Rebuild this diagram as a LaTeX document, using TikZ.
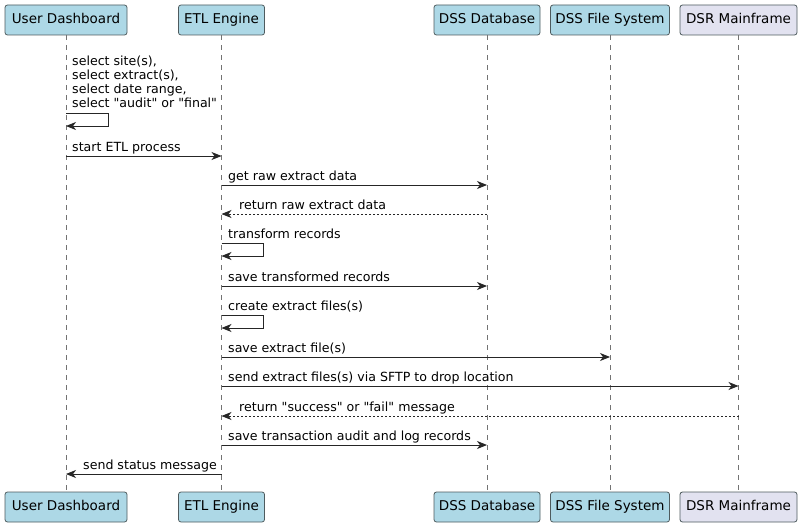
\documentclass[tikz,border=0pt]{standalone}
\usepackage{fontspec}
\setmainfont{DejaVu Sans}[Ligatures=TeXOff]
\usetikzlibrary{positioning,arrows.meta}
\definecolor{partblue}{HTML}{ADD8E6}
\definecolor{partlav}{HTML}{E2E2F0}
\definecolor{partline}{HTML}{4E5B5E}

\begin{document}
\begin{tikzpicture}[x=1pt,y=-1pt,
    part/.style={draw=partline,fill=partblue,rounded corners=2.5pt,
                 minimum height=30pt,inner xsep=0pt,line width=0.8pt,
                 text height=10pt,text depth=3pt,
                 font=\fontsize{13.5}{15}\selectfont},
    lifeline/.style={draw=black!55,line width=0.6pt,dash pattern=on 5pt off 5pt},
    msg/.style={draw=black!85,line width=0.9pt,
                -{Stealth[length=10pt,width=8pt,inset=3pt]}},
    reply/.style={msg,dash pattern=on 2pt off 2pt},
    lbl/.style={inner sep=0pt,anchor=base west,font=\fontsize{12.6}{14}\selectfont}
    ]
  \useasboundingbox (0,0) rectangle (803,527);
  % participants, top row
  \node[part,minimum width=122pt] (dashT) at (66,20)    {User Dashboard};
  \node[part,minimum width=86pt]  (etlT)  at (221.5,20) {ETL Engine};
  \node[part,minimum width=106pt] (dbT)   at (487,20)   {DSS Database};
  \node[part,minimum width=119pt] (fsT)   at (610,20)   {DSS File System};
  \node[part,minimum width=117pt,fill=partlav] (dsrT) at (738.5,20) {DSR Mainframe};
  % participants, bottom row
  \node[part,minimum width=122pt] (dashB) at (66,507)    {User Dashboard};
  \node[part,minimum width=86pt]  (etlB)  at (221.5,507) {ETL Engine};
  \node[part,minimum width=106pt] (dbB)   at (487,507)   {DSS Database};
  \node[part,minimum width=119pt] (fsB)   at (610,507)   {DSS File System};
  \node[part,minimum width=117pt,fill=partlav] (dsrB) at (738.5,507) {DSR Mainframe};
  % lifelines
  \foreach \p in {dash,etl,db,fs,dsr}
    \draw[lifeline] (\p T.south) -- (\p B.north);

  % messages
  \node[lbl,anchor=north west,align=left] (selTxt) at (72,56)
    {select site(s),\\select extract(s),\\select date range,\\select "audit" or "final"};
  \draw[msg] (dashT |- 0,113) -- ++(42,0) -- ++(0,13) -- (dashT |- 0,126);

  \node[lbl] (startTxt) at (72,151) {start ETL process};
  \draw[msg] (dashT |- 0,156) -- (etlT |- 0,156);

  \node[lbl] (getTxt) at (228,180) {get raw extract data};
  \draw[msg] (etlT |- 0,185) -- (dbT |- 0,185);

  \node[lbl] (retTxt) at (239,209) {return raw extract data};
  \draw[reply] (dbT |- 0,214) -- (etlT |- 0,214);

  \node[lbl] (trTxt) at (228,238) {transform records};
  \draw[msg] (etlT |- 0,243) -- ++(42,0) -- ++(0,13) -- (etlT |- 0,256);

  \node[lbl] (saveTxt) at (228,281) {save transformed records};
  \draw[msg] (etlT |- 0,286) -- (dbT |- 0,286);

  \node[lbl] (crTxt) at (228,310) {create extract files(s)};
  \draw[msg] (etlT |- 0,315) -- ++(42,0) -- ++(0,13) -- (etlT |- 0,328);

  \node[lbl] (sfTxt) at (228,352) {save extract file(s)};
  \draw[msg] (etlT |- 0,357) -- (fsT |- 0,357);

  \node[lbl] (sftpTxt) at (228,381) {send extract files(s) via SFTP to drop location};
  \draw[msg] (etlT |- 0,386) -- (dsrT |- 0,386);

  \node[lbl] (okTxt) at (239,411) {return "success" or "fail" message};
  \draw[reply] (dsrT |- 0,416) -- (etlT |- 0,416);

  \node[lbl] (audTxt) at (228,440) {save transaction audit and log records};
  \draw[msg] (etlT |- 0,445) -- (dbT |- 0,445);

  \node[lbl] (stTxt) at (83,469) {send status message};
  \draw[msg] (etlT |- 0,474) -- (dashT |- 0,474);
\end{tikzpicture}
\end{document}
